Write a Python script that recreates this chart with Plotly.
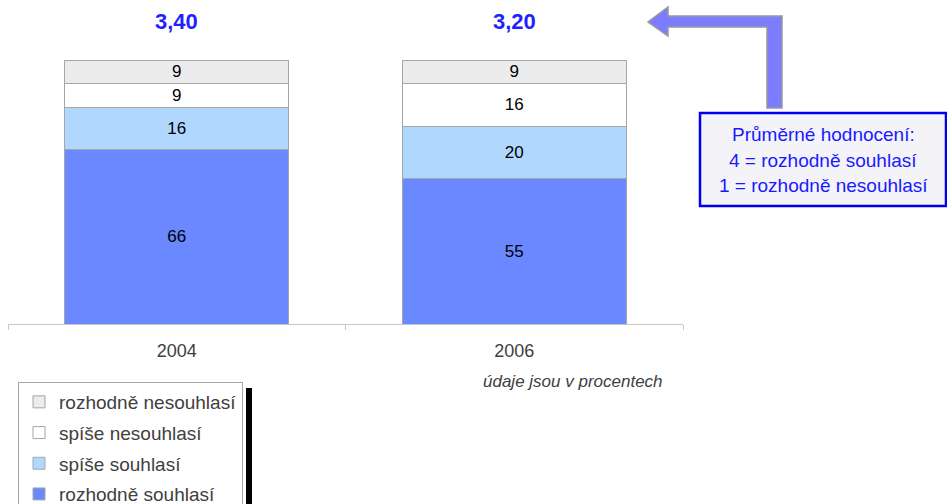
import plotly.graph_objects as go

# ---- data ----
years = ["2004", "2006"]
rozhodne_souhlasi = [66, 55]
spise_souhlasi = [16, 20]
spise_nesouhlasi = [9, 16]
rozhodne_nesouhlasi = [9, 9]
prumer = ["3,40", "3,20"]
series_names = ["rozhodně souhlasí", "spíše souhlasí", "spíše nesouhlasí", "rozhodně nesouhlasí"]
series_values = [rozhodne_souhlasi, spise_souhlasi, spise_nesouhlasi, rozhodne_nesouhlasi]
series_colors = ["#6a88ff", "#b0d8ff", "#ffffff", "#ececec"]

W, H = 947, 504
ML, MR, MT, MB = 8, 264, 60, 180
PW, PH = W - ML - MR, H - MT - MB


def px(x):
    return (x - ML) / PW


def py(y):
    return (H - MB - y) / PH


fig = go.Figure()
for i, (name, vals, col) in enumerate(zip(series_names, series_values, series_colors)):
    fig.add_trace(go.Bar(
        x=years, y=vals, name=name, legendgroup=f"g{i}", legendrank=4 - i,
        marker=dict(color=col, line=dict(color="#a6a6a6", width=1)),
        text=[str(v) for v in vals], textposition="inside", insidetextanchor="middle",
        textangle=0,
        textfont=dict(family="Liberation Sans, Arial", size=17, color="#000000"),
        width=0.664, hoverinfo="skip",
    ))

annotations = []
for i, m in enumerate(prumer):
    annotations.append(dict(x=i, xref="x", y=py(22), yref="paper", text=f"<b>{m}</b>",
                            xanchor="center", yanchor="middle", showarrow=False,
                            font=dict(family="Liberation Sans, Arial", size=22, color="#1f1fff")))

annotations.append(dict(x=px(665), y=py(381), xref="paper", yref="paper", xanchor="right", yanchor="middle",
                        text="<i>údaje jsou v procentech</i>", showarrow=False,
                        font=dict(family="Liberation Sans, Arial", size=17, color="#404040")))

box_lines = ["Průměrné hodnocení:", "4 = rozhodně souhlasí", "1 = rozhodně nesouhlasí"]
for line, yy in zip(box_lines, [134, 160, 185]):
    annotations.append(dict(x=px(823), y=py(yy), xref="paper", yref="paper", text=line, showarrow=False,
                            xanchor="center", yanchor="middle",
                            font=dict(family="Liberation Sans, Arial", size=19, color="#1a1aff")))

# arrow path
pts = [(782, 108), (782, 16), (668, 16), (668, 7), (648, 22), (668, 36), (668, 27), (767, 27), (767, 108)]
path = "M " + " L ".join(f"{px(x):.5f},{py(y):.5f}" for x, y in pts) + " Z"

shapes = [
    dict(type="path", xref="paper", yref="paper", path=path,
         fillcolor="#7c7cff", line=dict(color="#999999", width=1.5)),
    dict(type="rect", xref="paper", yref="paper", x0=px(700), x1=px(946), y0=py(206), y1=py(113),
         fillcolor="#f3f3f8", line=dict(color="#0000ee", width=2.5)),
    dict(type="rect", xref="paper", yref="paper", x0=px(246), x1=px(252), y0=py(510), y1=py(388),
         fillcolor="#000000", line=dict(width=0)),
]

fig.update_layout(
    width=W, height=H, autosize=False,
    margin=dict(l=ML, r=MR, t=MT, b=MB, autoexpand=False),
    barmode="stack",
    uniformtext=dict(minsize=17, mode="show"),
    paper_bgcolor="white", plot_bgcolor="white",
    font=dict(family="Liberation Sans, Arial", color="#404040"),
    xaxis=dict(type="category", range=[-0.5, 1.5], showline=True, linecolor="#c8c8c8", linewidth=1,
               ticks="outside", tickson="boundaries", tickcolor="#c8c8c8", ticklen=5,
               ticklabelstandoff=10, tickfont=dict(size=18, color="#404040"), showgrid=False),
    yaxis=dict(range=[0, 100], visible=False, showgrid=False, zeroline=False),
    showlegend=True,
    legend=dict(x=px(18), y=py(382), xanchor="left", yanchor="top", traceorder="grouped",
                tracegroupgap=3, itemwidth=30, bgcolor="white", bordercolor="#a6a6a6",
                borderwidth=1, font=dict(size=19, color="#404040")),
    annotations=annotations,
    shapes=shapes,
)

fig.write_html("out.html", config={"displayModeBar": False},
               post_script="document.body.style.margin='0';")
